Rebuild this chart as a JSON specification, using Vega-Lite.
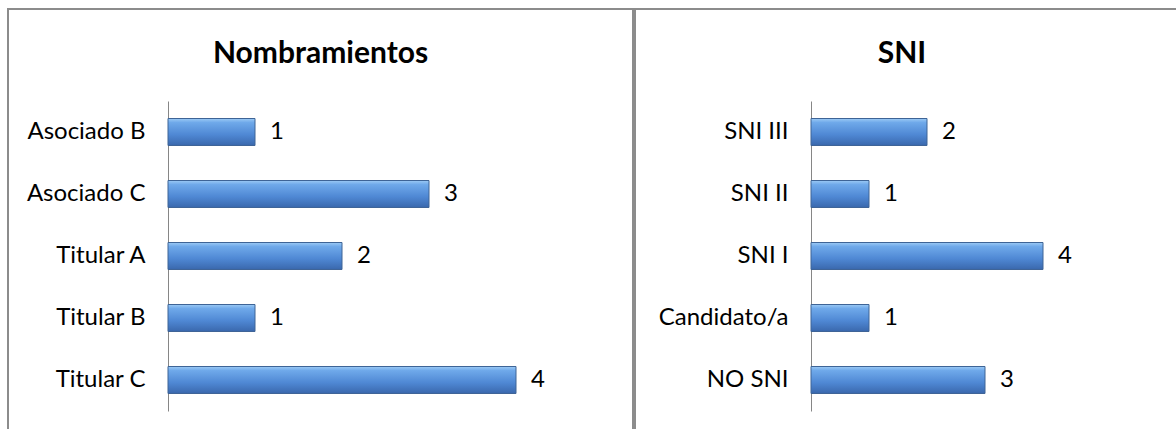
{
  "$schema": "https://vega.github.io/schema/vega-lite/v6.json",
  "padding": {"left": 7, "top": 8, "right": 0, "bottom": 0},
  "spacing": 0,
  "background": "white",
  "datasets": {
    "nombramientos": [
      {"categoria": "Asociado B", "valor": 1},
      {"categoria": "Asociado C", "valor": 3},
      {"categoria": "Titular A", "valor": 2},
      {"categoria": "Titular B", "valor": 1},
      {"categoria": "Titular C", "valor": 4}
    ],
    "sni": [
      {"categoria": "SNI III", "valor": 2},
      {"categoria": "SNI II", "valor": 1},
      {"categoria": "SNI I", "valor": 4},
      {"categoria": "Candidato/a", "valor": 1},
      {"categoria": "NO SNI", "valor": 3}
    ]
  },
  "hconcat": [
    {
      "width": 625,
      "height": 421,
      "title": {"text": "Nombramientos"},
      "data": {"name": "nombramientos"},
      "encoding": {
        "y": {
          "field": "categoria", "type": "nominal", "sort": null,
          "scale": {"range": [92, 402], "paddingInner": 0.565, "paddingOuter": 0.2825},
          "axis": {"title": null, "offset": -160}
        },
        "x": {
          "field": "valor", "type": "quantitative",
          "scale": {"domain": [0, 5], "range": [160, 595], "nice": false, "zero": true},
          "axis": null
        }
      },
      "layer": [
        {
          "mark": {
            "type": "bar",
            "stroke": "#3e6496",
            "strokeWidth": 1,
            "color": {
              "gradient": "linear", "x1": 0, "y1": 0, "x2": 0, "y2": 1,
              "stops": [
                {"offset": 0, "color": "#9ccaf5"},
                {"offset": 0.15, "color": "#6fa9ea"},
                {"offset": 0.6, "color": "#4f88d4"},
                {"offset": 1, "color": "#3a68ad"}
              ]
            }
          }
        },
        {
          "mark": {"type": "text", "align": "left", "baseline": "middle", "dx": 15, "font": "Lato", "fontSize": 24, "color": "black"},
          "encoding": {"text": {"field": "valor", "type": "quantitative"}}
        }
      ]
    },
    {
      "width": 544,
      "height": 421,
      "title": {"text": "SNI", "dx": -5},
      "data": {"name": "sni"},
      "encoding": {
        "y": {
          "field": "categoria", "type": "nominal", "sort": null,
          "scale": {"range": [92, 402], "paddingInner": 0.565, "paddingOuter": 0.2825},
          "axis": {"title": null, "offset": -176}
        },
        "x": {
          "field": "valor", "type": "quantitative",
          "scale": {"domain": [0, 6], "range": [176, 524], "nice": false, "zero": true},
          "axis": null
        }
      },
      "layer": [
        {
          "mark": {
            "type": "bar",
            "stroke": "#3e6496",
            "strokeWidth": 1,
            "color": {
              "gradient": "linear", "x1": 0, "y1": 0, "x2": 0, "y2": 1,
              "stops": [
                {"offset": 0, "color": "#9ccaf5"},
                {"offset": 0.15, "color": "#6fa9ea"},
                {"offset": 0.6, "color": "#4f88d4"},
                {"offset": 1, "color": "#3a68ad"}
              ]
            }
          }
        },
        {
          "mark": {"type": "text", "align": "left", "baseline": "middle", "dx": 15, "font": "Lato", "fontSize": 24, "color": "black"},
          "encoding": {"text": {"field": "valor", "type": "quantitative"}}
        }
      ]
    }
  ],
  "config": {
    "view": {"stroke": "#8c8c8c", "strokeWidth": 2},
    "title": {"font": "Lato", "fontSize": 30, "fontWeight": "bold", "color": "black", "anchor": "middle", "frame": "group", "offset": -60, "baseline": "alphabetic"},
    "axis": {
      "labelFont": "Lato", "labelFontSize": 24, "labelColor": "black",
      "domainColor": "#868686", "domainWidth": 1,
      "ticks": false, "tickSize": 0, "labelPadding": 23, "grid": false
    }
  }
}
